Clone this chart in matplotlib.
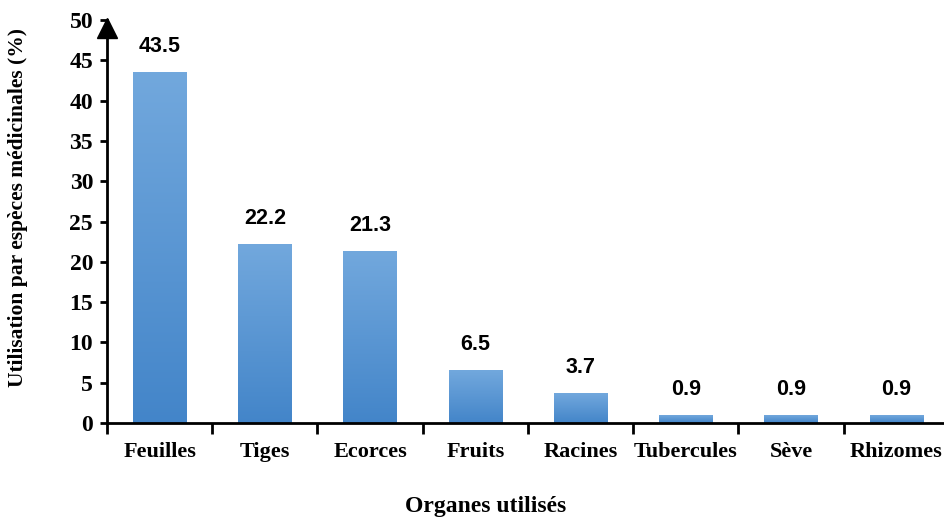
import numpy as np
import matplotlib.pyplot as plt
from matplotlib.colors import LinearSegmentedColormap

organes = ['Feuilles', 'Tiges', 'Ecorces', 'Fruits', 'Racines',
           'Tubercules', 'Sève', 'Rhizomes']
utilisation = [43.5, 22.2, 21.3, 6.5, 3.7, 0.9, 0.9, 0.9]
labels = ['43.5', '22.2', '21.3', '6.5', '3.7', '0.9', '0.9', '0.9']

serif = 'Liberation Serif'
sans = 'Liberation Sans'

fig = plt.figure(figsize=(9.44, 5.17), dpi=100)
ax = fig.add_axes([0.1133, 0.1818, 0.892, 0.7795])

x = np.arange(len(organes))
bars = ax.bar(x, utilisation, width=0.51, color='none', edgecolor='none')

# vertical gradient inside each bar (light on top, darker at the base)
grad = LinearSegmentedColormap.from_list('bleu', ['#4385c9', '#72a8dd'])
ramp = np.linspace(0, 1, 256).reshape(-1, 1)
for b in bars:
    x0, y0 = b.get_x(), b.get_y()
    ax.imshow(ramp, cmap=grad, origin='lower', aspect='auto',
              extent=(x0, x0 + b.get_width(), y0, y0 + b.get_height()),
              zorder=2)

for xi, v, t in zip(x, utilisation, labels):
    ax.annotate(t, (xi, v), xytext=(0, 11), textcoords='offset points',
                ha='center', va='bottom', fontsize=15.5, fontweight='bold',
                family=sans)

ax.set_xlim(-0.5, len(organes) - 0.5)
ax.set_ylim(0, 50)
ax.set_yticks(np.arange(0, 51, 5))

# ticks at category boundaries, labels centred under the bars
ax.set_xticks(np.arange(-0.5, len(organes) - 0.5, 1))
ax.set_xticklabels([])
ax.set_xticks(x, minor=True)
ax.set_xticklabels(organes, minor=True)
ax.tick_params(axis='x', which='major', direction='out', length=8, width=2)
ax.tick_params(axis='x', which='minor', length=0, pad=14)
ax.tick_params(axis='y', direction='out', length=5, width=2, pad=5)

for lab in ax.get_xticklabels(minor=True):
    lab.set_family(serif)
    lab.set_fontweight('bold')
    lab.set_fontsize(16)
for lab in ax.get_yticklabels():
    lab.set_family(serif)
    lab.set_fontweight('bold')
    lab.set_fontsize(17)

for side in ['top', 'right']:
    ax.spines[side].set_visible(False)
ax.spines['left'].set_linewidth(2)
ax.spines['bottom'].set_linewidth(2)

# arrow head at the top of the y axis
ax.plot(0, 49.0, marker='^', markersize=15, color='black',
        transform=ax.get_yaxis_transform(), clip_on=False)

ax.set_xlabel('Organes utilisés', family=serif, fontweight='bold',
              fontsize=17)
ax.xaxis.set_label_coords(0.45, -0.18)
ax.set_ylabel('Utilisation par espèces médicinales (%)', family=serif,
              fontweight='bold', fontsize=15.5)
ax.yaxis.set_label_coords(-0.094, 0.536)

fig.savefig('out.png', dpi=100)
